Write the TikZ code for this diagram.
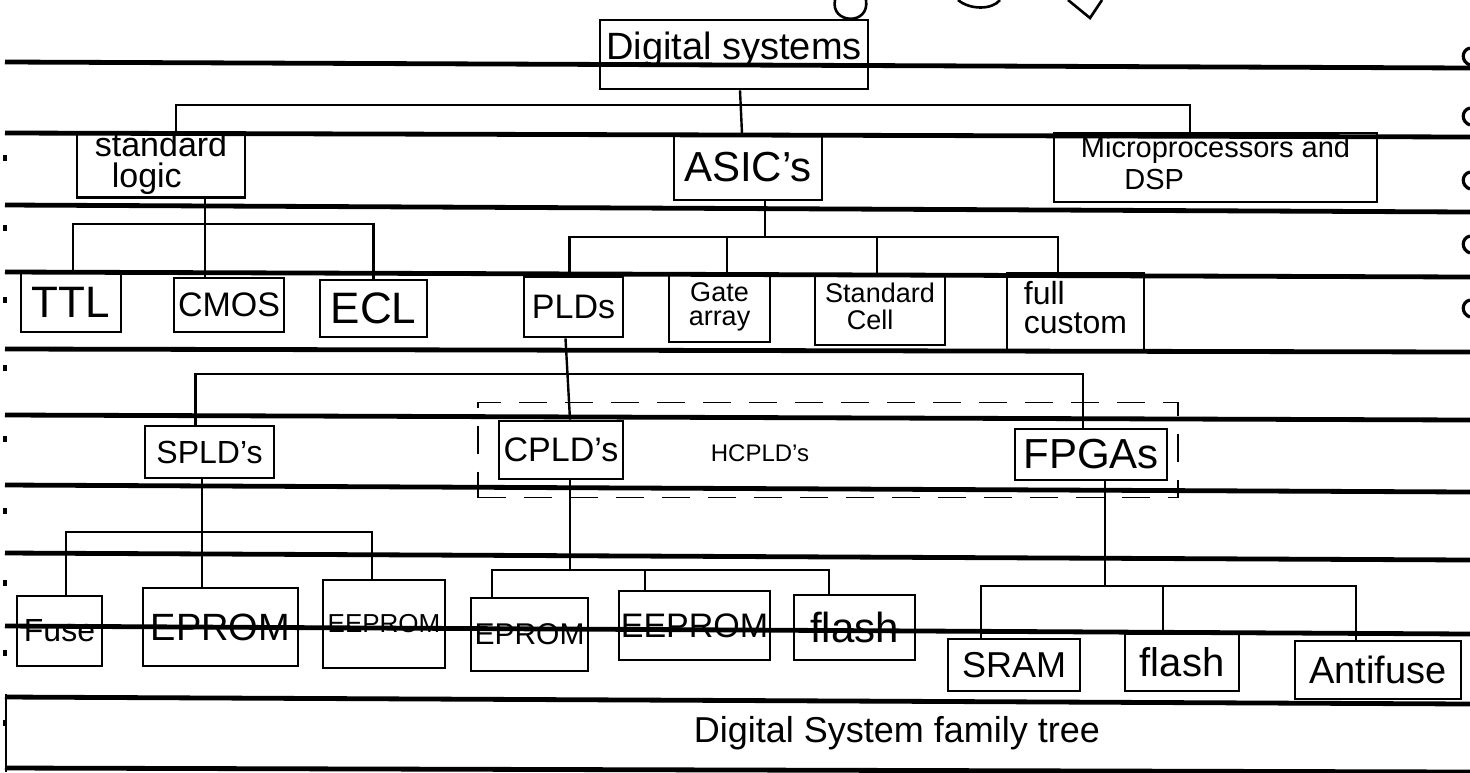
\documentclass[tikz,border=0pt]{standalone}
\usepackage{fontspec}
\setmainfont{Liberation Sans}
\tikzset{
  ruled/.style={line width=2.4pt},
  box/.style={draw, line width=1.4pt, inner sep=0pt, align=center},
  conn/.style={line width=1.2pt},
  hc/.style={draw, line width=0.9pt, dash pattern=on 14pt off 9pt},
}
\newcommand{\mybox}[6]{\node[box, minimum width={(#4-#2)*0.5pt}, minimum height={(#5-#3)*0.5pt}] (#1) at ({(#2+#4)/2},{(#3+#5)/2}) {#6};}
\begin{document}
\begin{tikzpicture}[x=0.5pt,y=-0.5pt]
\useasboundingbox (0,0) rectangle (1470,772);
% ruled lines of the paper
\foreach \a/\b in {62/68,133/137,205/212,272/277,349/352,415/420,485/492,553/560,626/634,697/704,768/772}
  \draw[ruled] (5,\a) -- (1470,\b);
% margin marks
\foreach \y in {158,228,300,368,439,511,583,653,723}
  \fill (3,\y-3) rectangle (7,\y+3);
\draw[line width=1.2pt] (6,694) -- (6,772);
\foreach \y in {48,108,172,236,300}
  \draw[line width=1.6pt] (1470,\y) .. controls (1461,\y+2) and (1461,\y+14) .. (1470,\y+17);
% scribbles at top
\draw[line width=1.3pt] (835,0) .. controls (830,24) and (870,26) .. (866,0);
\draw[line width=1.3pt] (958,0) .. controls (970,10) and (992,10) .. (1000,0);
\draw[line width=1.3pt] (1068,0) -- (1090,18) -- (1102,0);
% boxes
\mybox{ds}{600}{20}{868}{89}{\raisebox{9pt}{\fontsize{19}{21}\selectfont Digital systems}}
\mybox{sl}{77}{133}{245}{197}{\fontsize{17}{17}\selectfont\begin{tabular}{@{}l@{}}standard\\[-2pt]\hspace{0.5em}logic\end{tabular}}
\mybox{asic}{674}{135}{822}{200}{\fontsize{21}{23}\selectfont ASIC's}
\mybox{mp}{1054}{133}{1377}{202}{\fontsize{14.5}{15}\selectfont\begin{tabular}{@{}l@{}}Microprocessors and\\[1pt]\hspace{1.5em}DSP\end{tabular}}
\mybox{ttl}{21}{273}{121}{332}{\fontsize{22}{24}\selectfont TTL}
\mybox{cmos}{174}{278}{284}{332}{\fontsize{17}{19}\selectfont CMOS}
\mybox{ecl}{320}{280}{427}{337}{\fontsize{22}{24}\selectfont ECL}
\mybox{plds}{524}{277}{623}{337}{\fontsize{17}{19}\selectfont PLDs}
\mybox{ga}{669}{274}{770}{342}{\fontsize{13.5}{12}\selectfont\begin{tabular}{@{}c@{}}Gate\\array\end{tabular}}
\mybox{sc}{815}{275}{945}{345}{\fontsize{13.5}{12}\selectfont\begin{tabular}{@{}l@{}}Standard\\\hspace{0.8em}Cell\end{tabular}}
\mybox{fc}{1007}{273}{1144}{350}{\fontsize{16}{14}\selectfont\begin{tabular}{@{}l@{}}full\\custom\end{tabular}}
\mybox{spld}{145}{426}{274}{478}{\fontsize{16}{18}\selectfont SPLD's}
\mybox{cpld}{499}{421}{623}{479}{\fontsize{17}{19}\selectfont CPLD's}
\mybox{fpga}{1015}{429}{1167}{480}{\fontsize{21}{23}\selectfont FPGAs}
\mybox{fuse}{17}{596}{102}{666}{\fontsize{16}{18}\selectfont Fuse}
\mybox{eprom1}{143}{588}{298}{666}{\fontsize{19}{21}\selectfont EPROM}
\mybox{eeprom1}{323}{580}{445}{668}{\fontsize{13}{15}\selectfont EEPROM}
\mybox{eprom2}{471}{598}{588}{671}{\fontsize{15}{17}\selectfont EPROM}
\mybox{eeprom2}{619}{591}{770}{660}{\fontsize{17}{19}\selectfont EEPROM}
\mybox{flash1}{794}{595}{915}{660}{\fontsize{21}{23}\selectfont flash}
\mybox{sram}{948}{639}{1080}{691}{\fontsize{18}{20}\selectfont SRAM}
\mybox{flash2}{1125}{634}{1239}{691}{\fontsize{20}{22}\selectfont flash}
\mybox{anti}{1295}{641}{1461}{699}{\fontsize{19}{21}\selectfont Antifuse}
% dashed HCPLD group
\node[hc, minimum width=350pt, minimum height=47.5pt, inner sep=0pt] (hcg) at (828,450) {};
\node[font=\fontsize{12}{14}\selectfont] (hcl) at (760,453) {HCPLD's};
% title
\node[font=\fontsize{18}{20}\selectfont] (title) at (897,733) {Digital System family tree};
% connectors
\coordinate (b1) at (740,105);
\draw[conn] ([xshift=7.5pt]sl.north) |- (b1) -| ([xshift=-12.75pt]mp.north);
\draw[conn] ([xshift=3pt]ds.south) -- ([xshift=-3pt]asic.north);
\coordinate (b2) at (205,224);
\draw[conn] ([xshift=22pt]sl.south) -- ([xshift=-12pt]cmos.north);
\draw[conn] ([xshift=1pt]ttl.north) |- (b2) -| (ecl.north);
\coordinate (b3) at (765,237);
\draw[conn] ([xshift=8.5pt]asic.south) -- (b3);
\draw[conn] ([xshift=-2pt]plds.north) |- (b3) -| ([xshift=-8.75pt]fc.north);
\draw[conn] ([xshift=3.75pt]ga.north) -- ++(0,-37);
\draw[conn] ([xshift=-1.5pt]sc.north) -- ++(0,-38);
\coordinate (b4) at (565,374);
\draw[conn] ([xshift=-4pt]plds.south) -- ([xshift=4.5pt]cpld.north);
\draw[conn] ([xshift=-7pt]spld.north) |- (b4) -| ([xshift=-4pt]fpga.north);
\coordinate (b5) at (202,532);
\draw[conn] ([xshift=-3.75pt]spld.south) -- ([xshift=-9.25pt]eprom1.north);
\draw[conn] ([xshift=3.25pt]fuse.north) |- (b5) -| ([xshift=-6pt]eeprom1.north);
\coordinate (b6) at (570,570);
\draw[conn] ([xshift=4.5pt]cpld.south) -- (b6);
\draw[conn] ([xshift=-18.75pt]eprom2.north) |- (b6) -| ([xshift=-12.75pt]flash1.north);
\draw[conn] ([xshift=-24.75pt]eeprom2.north) -- ++(0,-21);
\coordinate (b7) at (1105,586);
\draw[conn] ([xshift=7pt]fpga.south) -- (b7);
\draw[conn] ([xshift=-16.5pt]sram.north) |- (b7) -| ([xshift=-11pt]anti.north);
\draw[conn] ([xshift=-9.5pt]flash2.north) -- ++(0,-48);
\end{tikzpicture}
\end{document}
